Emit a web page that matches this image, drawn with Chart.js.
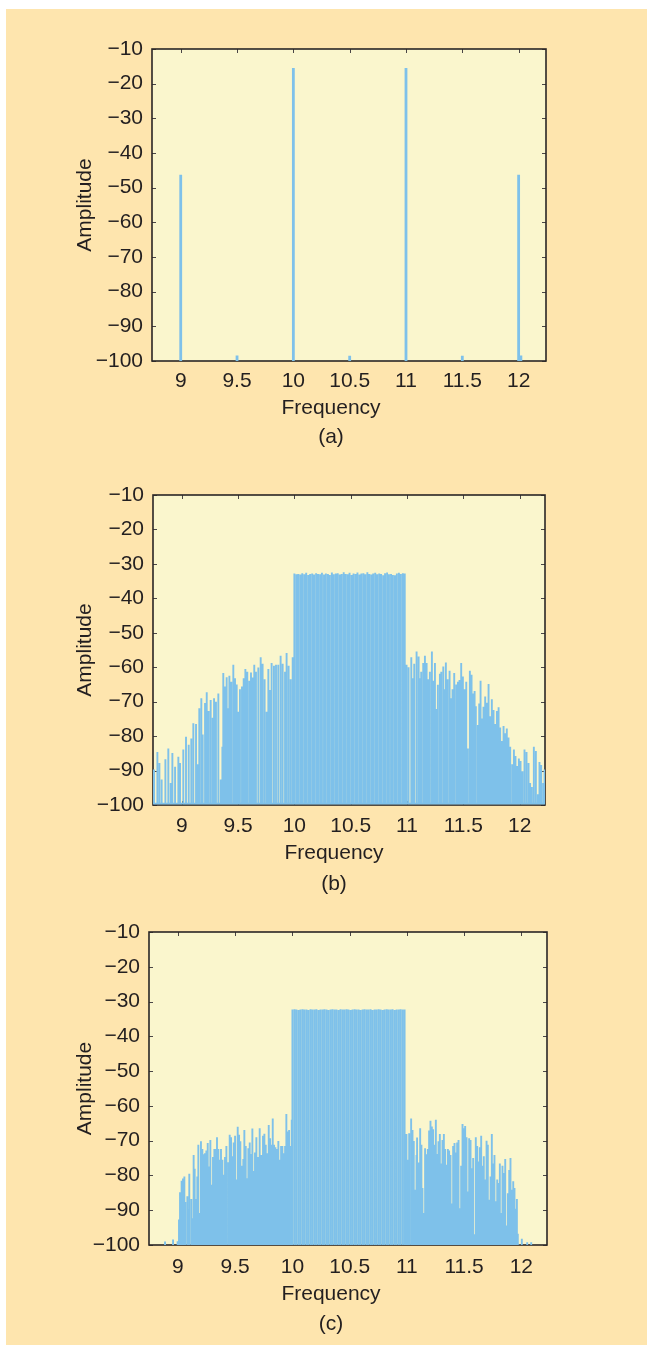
<!DOCTYPE html>
<html>
<head>
<meta charset="utf-8">
<script src="https://cdn.jsdelivr.net/npm/chart.js@4.4.1/dist/chart.umd.min.js"></script>
<style>
  html, body { margin: 0; padding: 0; background: #ffffff; }
  body { width: 647px; height: 1345px; position: relative; overflow: hidden; }
  #bg { position: absolute; left: 6px; top: 9px; right: 0; bottom: 0; background: #fee5ae; }
  canvas { position: absolute; left: 0; }
</style>
</head>
<body>
<div id="bg"></div>
<canvas id="ca"></canvas>
<canvas id="cb"></canvas>
<canvas id="cc"></canvas>
<script>
// ---------------- data ----------------
const xTicks = [9, 9.5, 10, 10.5, 11, 11.5, 12];
const yTicks = [-10, -20, -30, -40, -50, -60, -70, -80, -90, -100];
const xTitle = 'Frequency';
const yTitle = 'Amplitude';
const captions = ['(a)', '(b)', '(c)'];

// (a) two-tone spectrum: spikes
const aFreq = [9, 9.5, 10, 10.5, 11, 11.5, 12, 12.02];
const aAmp  = [-46.3, -98.4, -15.5, -98.5, -15.5, -98.5, -46.3, -98.4];
const aFloor = -130;

// (b)
const bFreqLeft = [8.745, 8.754, 8.784, 8.802, 8.822, 8.855, 8.881, 8.902, 8.917, 8.941, 8.970, 8.985, 9.014, 9.038, 9.062, 9.085, 9.103, 9.127, 9.139, 9.156, 9.174, 9.186, 9.207, 9.222, 9.239, 9.257, 9.275, 9.287, 9.304, 9.325, 9.346, 9.361, 9.369, 9.384, 9.399, 9.414, 9.423, 9.440, 9.458, 9.473, 9.488, 9.502, 9.517, 9.535, 9.550, 9.565, 9.582, 9.600, 9.615, 9.630, 9.644, 9.659, 9.680, 9.701, 9.718, 9.736, 9.754, 9.769, 9.783, 9.798, 9.819, 9.837, 9.857, 9.878, 9.896, 9.917, 9.931, 9.949, 9.967, 9.985];
const bAmpLeft = [-89.7, -89.7, -84.6, -87.8, -92.6, -86.7, -83.6, -93.6, -84.9, -88.9, -86.0, -87.8, -83.9, -80.2, -82.5, -80.7, -76.3, -76.5, -88.2, -71.9, -69.0, -79.5, -70.4, -67.3, -72.7, -69.5, -74.7, -69.0, -70.0, -67.6, -92.6, -83.1, -61.7, -65.6, -62.9, -71.9, -62.5, -64.2, -59.3, -63.2, -65.0, -72.9, -66.4, -65.6, -63.2, -60.5, -61.3, -63.9, -61.5, -63.0, -59.3, -61.3, -60.1, -57.1, -59.0, -63.5, -72.9, -60.5, -66.6, -58.8, -59.6, -59.3, -59.3, -56.7, -59.0, -61.3, -55.9, -59.6, -63.5, -57.1];
const plateauFreq = [10.000, 10.018, 10.035, 10.053, 10.070, 10.088, 10.105, 10.123, 10.140, 10.158, 10.175, 10.193, 10.210, 10.228, 10.245, 10.263, 10.280, 10.298, 10.315, 10.333, 10.350, 10.368, 10.385, 10.403, 10.420, 10.438, 10.455, 10.473, 10.490, 10.508, 10.525, 10.543, 10.560, 10.578, 10.595, 10.613, 10.630, 10.648, 10.665, 10.683, 10.700, 10.718, 10.735, 10.753, 10.770, 10.788, 10.805, 10.823, 10.840, 10.858, 10.875, 10.893, 10.910, 10.928, 10.945, 10.963, 10.980];
const bAmpPlateau = [-32.8, -33.0, -32.9, -33.1, -32.7, -33.0, -32.6, -33.2, -32.9, -32.8, -33.1, -32.7, -32.9, -33.0, -32.6, -33.1, -32.8, -32.9, -33.2, -32.5, -33.0, -32.8, -32.7, -33.1, -32.9, -32.4, -32.9, -33.0, -32.6, -33.2, -32.8, -32.9, -32.5, -33.1, -32.8, -32.7, -33.0, -32.4, -32.9, -33.1, -32.8, -32.6, -33.0, -32.8, -32.9, -33.3, -32.7, -32.5, -33.0, -32.9, -33.2, -33.3, -32.8, -32.6, -32.9, -32.7, -32.8];
const bFreqRight = [10.996, 11.014, 11.038, 11.049, 11.064, 11.085, 11.103, 11.115, 11.126, 11.144, 11.159, 11.174, 11.186, 11.203, 11.221, 11.236, 11.248, 11.262, 11.274, 11.292, 11.304, 11.322, 11.333, 11.345, 11.360, 11.378, 11.390, 11.404, 11.419, 11.437, 11.452, 11.466, 11.481, 11.496, 11.511, 11.526, 11.540, 11.558, 11.573, 11.585, 11.600, 11.611, 11.629, 11.641, 11.653, 11.665, 11.679, 11.694, 11.709, 11.724, 11.739, 11.753, 11.768, 11.783, 11.798, 11.813, 11.827, 11.842, 11.857, 11.872, 11.886, 11.901, 11.916, 11.934, 11.949, 11.963, 11.978, 11.993, 12.008, 12.025, 12.043, 12.061, 12.079, 12.093, 12.108, 12.126, 12.144, 12.162, 12.176, 12.191, 12.209, 12.221, 12.240];
const bAmpRight = [-59.3, -60.0, -57.1, -63.2, -59.0, -55.4, -56.9, -63.2, -61.3, -58.8, -56.7, -58.8, -63.5, -61.3, -55.4, -63.9, -58.8, -72.1, -65.1, -61.9, -61.3, -59.8, -66.4, -58.6, -63.5, -61.0, -69.0, -66.4, -61.7, -65.0, -64.2, -63.7, -58.8, -62.7, -66.4, -64.2, -83.6, -61.0, -62.2, -67.6, -66.9, -71.3, -76.8, -70.5, -63.9, -74.9, -71.5, -68.5, -70.3, -64.9, -74.2, -69.3, -72.4, -76.5, -72.7, -71.6, -77.5, -81.4, -77.1, -79.2, -77.8, -80.4, -83.1, -88.2, -83.9, -85.8, -88.7, -86.5, -87.2, -90.2, -83.9, -84.6, -87.8, -93.6, -94.8, -83.1, -84.3, -96.9, -87.5, -88.4, -93.6, -89.7, -89.7];
const bFloor = -99.6;

// (c)
const cFreqLeft = [8.887, 8.957, 8.997, 9.009, 9.018, 9.032, 9.044, 9.056, 9.064, 9.082, 9.094, 9.099, 9.117, 9.126, 9.137, 9.146, 9.158, 9.169, 9.178, 9.190, 9.201, 9.213, 9.225, 9.236, 9.248, 9.260, 9.271, 9.283, 9.295, 9.306, 9.318, 9.330, 9.341, 9.353, 9.365, 9.376, 9.388, 9.400, 9.411, 9.423, 9.440, 9.452, 9.464, 9.475, 9.487, 9.499, 9.510, 9.522, 9.534, 9.545, 9.560, 9.571, 9.580, 9.592, 9.604, 9.615, 9.627, 9.638, 9.650, 9.662, 9.673, 9.685, 9.700, 9.714, 9.729, 9.743, 9.755, 9.767, 9.778, 9.793, 9.805, 9.816, 9.828, 9.840, 9.851, 9.863, 9.877, 9.889, 9.901, 9.912, 9.924, 9.936, 9.947, 9.959, 9.971, 9.985, 9.994];
const cAmpLeft = [-99.0, -98.4, -98.9, -92.7, -84.8, -81.5, -80.9, -80.3, -87.6, -86.0, -89.8, -79.5, -86.8, -92.3, -74.1, -78.1, -86.8, -80.3, -71.2, -90.8, -70.2, -72.4, -73.9, -73.6, -72.8, -70.7, -77.4, -69.8, -82.7, -74.7, -72.4, -72.4, -69.0, -72.4, -75.5, -72.4, -75.5, -79.8, -74.7, -71.5, -76.2, -68.3, -69.0, -74.5, -70.5, -68.6, -81.2, -66.0, -68.3, -70.2, -77.2, -75.3, -66.9, -71.5, -80.8, -72.2, -70.5, -73.8, -66.5, -78.7, -73.4, -69.0, -74.7, -66.4, -74.1, -68.6, -68.0, -71.2, -73.6, -65.5, -69.3, -71.2, -63.6, -71.2, -71.9, -72.4, -70.1, -75.5, -71.5, -71.5, -73.6, -71.5, -62.3, -67.4, -66.9, -71.5, -64.0];
const cAmpPlateau = [-32.3, -32.2, -32.3, -32.4, -32.3, -32.2, -32.3, -32.3, -32.4, -32.2, -32.3, -32.3, -32.2, -32.4, -32.3, -32.3, -32.2, -32.3, -32.4, -32.3, -32.2, -32.3, -32.3, -32.4, -32.2, -32.3, -32.3, -32.2, -32.3, -32.4, -32.3, -32.2, -32.3, -32.3, -32.4, -32.3, -32.2, -32.3, -32.3, -32.2, -32.4, -32.3, -32.3, -32.2, -32.3, -32.4, -32.3, -32.2, -32.3, -32.3, -32.2, -32.4, -32.3, -32.3, -32.2, -32.3, -32.3];
const cFreqRight = [10.996, 11.008, 11.020, 11.037, 11.049, 11.060, 11.072, 11.084, 11.089, 11.101, 11.116, 11.127, 11.136, 11.145, 11.159, 11.171, 11.183, 11.194, 11.206, 11.218, 11.229, 11.241, 11.253, 11.264, 11.276, 11.288, 11.299, 11.311, 11.323, 11.334, 11.346, 11.358, 11.369, 11.381, 11.392, 11.404, 11.416, 11.427, 11.439, 11.451, 11.462, 11.474, 11.486, 11.497, 11.509, 11.521, 11.532, 11.544, 11.556, 11.567, 11.579, 11.591, 11.602, 11.614, 11.626, 11.637, 11.649, 11.661, 11.672, 11.684, 11.696, 11.707, 11.719, 11.731, 11.742, 11.754, 11.765, 11.777, 11.789, 11.800, 11.812, 11.824, 11.835, 11.847, 11.859, 11.870, 11.882, 11.894, 11.905, 11.917, 11.929, 11.940, 11.952, 11.961, 11.969, 11.981, 12.004, 12.051, 12.086];
const cAmpRight = [-68.1, -75.5, -67.9, -63.6, -66.9, -70.1, -84.1, -74.1, -69.1, -76.3, -66.4, -71.2, -83.6, -90.8, -72.2, -73.9, -72.4, -67.1, -64.3, -65.9, -66.7, -71.2, -64.0, -73.8, -70.2, -68.1, -76.6, -69.8, -68.1, -72.4, -76.9, -72.4, -72.8, -74.1, -88.1, -71.5, -70.7, -73.4, -70.5, -69.8, -89.4, -77.2, -65.2, -66.4, -65.8, -69.0, -84.6, -69.3, -69.8, -77.9, -75.0, -96.9, -69.0, -71.5, -76.0, -71.9, -68.6, -77.2, -74.5, -81.2, -70.0, -71.2, -87.0, -80.3, -68.1, -76.6, -74.1, -87.4, -81.2, -82.2, -76.6, -90.8, -77.2, -79.3, -75.3, -94.4, -85.1, -78.4, -75.0, -84.1, -81.7, -83.6, -89.6, -86.8, -96.8, -99.9, -98.2, -99.2, -99.2];
const cFloor = -130;

// ---------------- style / layout ----------------
const FONT = "'Liberation Sans', Arial, Helvetica, sans-serif";
const FS = 21, LH = 25.2;
const TEXT = '#231f20';
const PLOT_BG = '#faf6cd';
const LINE = '#7ec1ea';
const AXIS = '#2a2626';

const panels = [
  { id: 'ca', L: 152, R: 546, T: 49,  B: 361,  tickGap: 20, freqGap: 47, capGap: 76, textX: 331, xMin: 8.745, xMax: 12.243,
    freqs: [aFreq], amps: [aAmp], floor: aFloor, lw: 2.8, cap: captions[0] },
  { id: 'cb', L: 153, R: 545, T: 495, B: 805,  tickGap: 21, freqGap: 48, capGap: 79, textX: 334, xMin: 8.745, xMax: 12.225,
    freqs: [bFreqLeft, plateauFreq, bFreqRight], amps: [bAmpLeft, bAmpPlateau, bAmpRight], floor: bFloor, lw: 1.9, cap: captions[1] },
  { id: 'cc', L: 149, R: 547, T: 932, B: 1245, tickGap: 22, freqGap: 49, capGap: 79, textX: 331, xMin: 8.747, xMax: 12.224,
    freqs: [cFreqLeft, plateauFreq, cFreqRight], amps: [cAmpLeft, cAmpPlateau, cAmpRight], floor: cFloor, lw: 1.9, cap: captions[2] }
];

const fmt = v => String(v).replace('-', '\u2212');

const framePlugin = {
  id: 'frame',
  beforeDatasetsDraw(chart) {
    const { ctx, chartArea: a, scales: { x, y } } = chart;
    ctx.save();
    ctx.fillStyle = PLOT_BG;
    ctx.fillRect(a.left, a.top, a.right - a.left, a.bottom - a.top);
    ctx.strokeStyle = '#4a4646';
    ctx.lineWidth = 1;
    ctx.beginPath();
    x.ticks.forEach(t => {
      const px = Math.round(x.getPixelForValue(t.value)) + 0.5;
      ctx.moveTo(px, a.bottom); ctx.lineTo(px, a.bottom - 4);
      ctx.moveTo(px, a.top); ctx.lineTo(px, a.top + 4);
    });
    y.ticks.forEach(t => {
      const py = Math.round(y.getPixelForValue(t.value)) + 0.5;
      ctx.moveTo(a.left, py); ctx.lineTo(a.left + 4, py);
      ctx.moveTo(a.right, py); ctx.lineTo(a.right - 4, py);
    });
    ctx.stroke();
    ctx.strokeStyle = AXIS;
    ctx.lineWidth = 1.6;
    ctx.strokeRect(a.left, a.top, a.right - a.left, a.bottom - a.top);
    ctx.restore();
  },
  afterDraw(chart, args, opts) {
    // x-axis title and panel caption (centred as in the original figure)
    const { ctx, chartArea: a } = chart;
    ctx.save();
    ctx.font = FS + 'px ' + FONT;
    ctx.fillStyle = TEXT;
    ctx.textAlign = 'center';
    ctx.textBaseline = 'middle';
    ctx.fillText(xTitle, opts.cx, a.bottom + opts.freqGap);
    ctx.fillText(opts.cap, opts.cx, a.bottom + opts.capGap);
    ctx.restore();
  }
};

Chart.defaults.font.family = FONT;
Chart.defaults.font.size = FS;
Chart.defaults.color = TEXT;

panels.forEach(p => {
  const canvas = document.getElementById(p.id);
  const H = (p.B - p.T) + 135;
  canvas.width = 647;
  canvas.height = H;
  canvas.style.top = (p.T - 30) + 'px';
  const Hx = p.freqGap + LH / 2;
  const padBottom = H - 30 - (p.B - p.T) - Hx;

  const pts = [];
  p.freqs.forEach((fs, k) => {
    fs.forEach((f, i) => {
      pts.push({ x: f, y: p.floor }, { x: f, y: p.amps[k][i] }, { x: f, y: p.floor });
    });
  });

  new Chart(canvas, {
    type: 'line',
    data: {
      datasets: [{
        data: pts,
        borderColor: LINE,
        borderWidth: p.lw,
        pointRadius: 0,
        fill: false,
        tension: 0,
        borderJoinStyle: 'bevel',
        borderCapStyle: 'butt'
      }]
    },
    options: {
      responsive: false,
      animation: false,
      events: [],
      layout: { padding: { top: 30, left: 73, right: 647 - p.R, bottom: padBottom } },
      plugins: {
        legend: { display: false },
        tooltip: { enabled: false },
        title: { display: false },
        frame: { cx: p.textX, freqGap: p.freqGap, capGap: p.capGap, cap: p.cap }
      },
      scales: {
        x: {
          type: 'linear', min: p.xMin, max: p.xMax,
          grid: { display: false, drawTicks: false, tickLength: 0 },
          border: { display: false },
          afterBuildTicks: s => { s.ticks = xTicks.map(v => ({ value: v })); },
          afterFit: s => { s.height = Hx; },
          ticks: { padding: p.tickGap - LH / 2, autoSkip: false, maxRotation: 0, callback: v => fmt(v),
                   font: { size: FS, lineHeight: 1.2 } },
          title: { display: false }
        },
        y: {
          type: 'linear', min: -100, max: -10,
          grid: { display: false, drawTicks: false, tickLength: 0 },
          border: { display: false },
          afterBuildTicks: s => { s.ticks = yTicks.map(v => ({ value: v })); },
          afterFit: s => { s.width = p.L - 73; },
          ticks: { padding: 9, autoSkip: false, callback: v => fmt(v), font: { size: FS, lineHeight: 1.2 } },
          title: { display: true, text: yTitle, padding: { top: 0, bottom: 0 }, font: { size: FS, lineHeight: 1.2 } }
        }
      }
    },
    plugins: [framePlugin]
  });
});
</script>
</body>
</html>
